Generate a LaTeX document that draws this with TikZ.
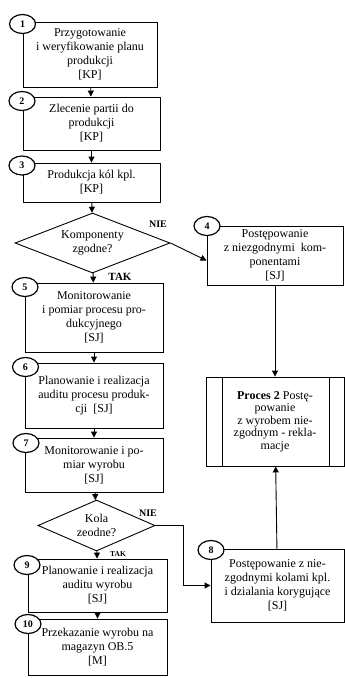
\documentclass[tikz,border=0pt]{standalone}
\usepackage{fontspec}
\setmainfont{Liberation Serif}
\usetikzlibrary{arrows.meta,shapes.geometric}

\begin{document}
\begin{tikzpicture}[x=1pt,y=-1pt,
  box/.style={draw,line width=0.9pt,align=center,inner sep=1pt,font=\fontsize{12}{14}\selectfont},
  num/.style={draw,ellipse,fill=white,line width=1.2pt,inner sep=0pt,minimum width=26pt,minimum height=19pt,font=\bfseries\fontsize{10}{10}\selectfont},
  decision/.style={draw,diamond,aspect=2.3,line width=0.9pt,inner sep=0pt,align=center,font=\fontsize{12}{14}\selectfont},
  lab/.style={font=\bfseries\fontsize{10}{10}\selectfont},
  arr/.style={line width=0.9pt,-{Triangle[length=6pt,width=6pt]}}]
  \useasboundingbox (0,0) rectangle (345,678);
  \node[box,minimum width=134pt,minimum height=65pt] (b1) at (90,54.5)
    {Przygotowanie\\i weryfikowanie planu\\produkcji\\{[KP]}};
  \node[box,minimum width=137pt,minimum height=53pt] (b2) at (91.5,123.5)
    {Zlecenie partii do\\produkcji\\{[KP]}};
  \node[box,minimum width=137pt,minimum height=39pt] (b3) at (91.5,182.5)
    {Produkcja kól kpl.\\{[KP]}};
  \node[decision,minimum width=155pt,minimum height=60pt] (d1) at (92.5,243)
    {Komponenty\\zgodne?};
  \node[box,minimum width=136pt,minimum height=59pt] (b4) at (275,255.5)
    {Postępowanie\\z niezgodnymi~~kom-\\ponentami\\{[SJ]}};
  \node[box,minimum width=138pt,minimum height=69pt] (b5) at (94,317.5)
    {Monitorowanie\\i pomiar procesu pro-\\dukcyjnego\\{[SJ]}};
  \node[box,minimum width=138pt,minimum height=65pt] (b6) at (94,395.5)
    {Planowanie i realizacja\\auditu procesu produk-\\cji~~[SJ]};
  \node[box,minimum width=138pt,minimum height=89pt,font=\fontsize{12}{12.5}\selectfont] (pr) at (275,421.5)
    {\textbf{Proces 2} Postę-\\powanie\\z wyrobem nie-\\zgodnym - rekla-\\macje};
  \node[box,minimum width=138pt,minimum height=54pt] (b7) at (94,465)
    {Monitorowanie i po-\\miar wyrobu\\{[SJ]}};
  \node[decision,minimum width=117pt,minimum height=51pt] (d2) at (96.5,525.5)
    {Kola\\zeodne?};
  \node[box,minimum width=133pt,minimum height=73pt] (b8) at (277.5,585.5)
    {Postępowanie z nie-\\zgodnymi kolami kpl.\\i dzialania korygujące\\{[SJ]}};
  \node[box,minimum width=139pt,minimum height=53pt] (b9) at (97.5,585.5)
    {Planowanie i realizacja\\auditu wyrobu\\{[SJ]}};
  \node[box,minimum width=139pt,minimum height=56pt] (b10) at (97.5,647)
    {Przekazanie wyrobu na\\magazyn OB.5\\{[M]}};
  \draw[line width=0.9pt] ([xshift=17pt]pr.north west) -- ([xshift=17pt]pr.south west);
  \draw[line width=0.9pt] ([xshift=-15pt]pr.north east) -- ([xshift=-15pt]pr.south east);
  \draw[arr] (b1) -- (b2);
  \draw[arr] (b2) -- (b3);
  \draw[arr] (b3) -- (d1);
  \draw[arr] (d1) -- (b5);
  \draw[arr] (b5) -- (b6);
  \draw[arr] (b6) -- (b7);
  \draw[arr] (b7) -- (d2);
  \draw[arr] (d2) -- (b9);
  \draw[arr] (b9) -- (b10);
  \draw[arr] (d1.east) -- ([yshift=-5pt]b4.west);
  \draw[arr] (b4) -- (pr);
  \draw[arr] (b8) -- (pr);
  \draw[arr] (d2.east) -- ++(28,0) |- (b8.west);
  \node[num] (n1) at (22.5,24) {1};
  \node[num] (n2) at (22,101) {2};
  \node[num] (n3) at (22,165.5) {3};
  \node[num] (n4) at (207,226) {4};
  \node[num] (n5) at (25,287) {5};
  \node[num] (n6) at (25.5,367) {6};
  \node[num] (n7) at (26,443) {7};
  \node[num] (n8) at (211,550) {8};
  \node[num] (n9) at (27,565) {9};
  \node[num] (n10) at (28,624) {10};
  \node[lab] (nie1) at (158,224) {NIE};
  \node[lab,font=\bfseries\fontsize{11}{11}\selectfont] (tak1) at (120,277) {TAK};
  \node[lab] (nie2) at (148,513) {NIE};
  \node[lab,font=\bfseries\fontsize{7.5}{7.5}\selectfont] (tak2) at (118,554) {TAK};
\end{tikzpicture}
\end{document}
